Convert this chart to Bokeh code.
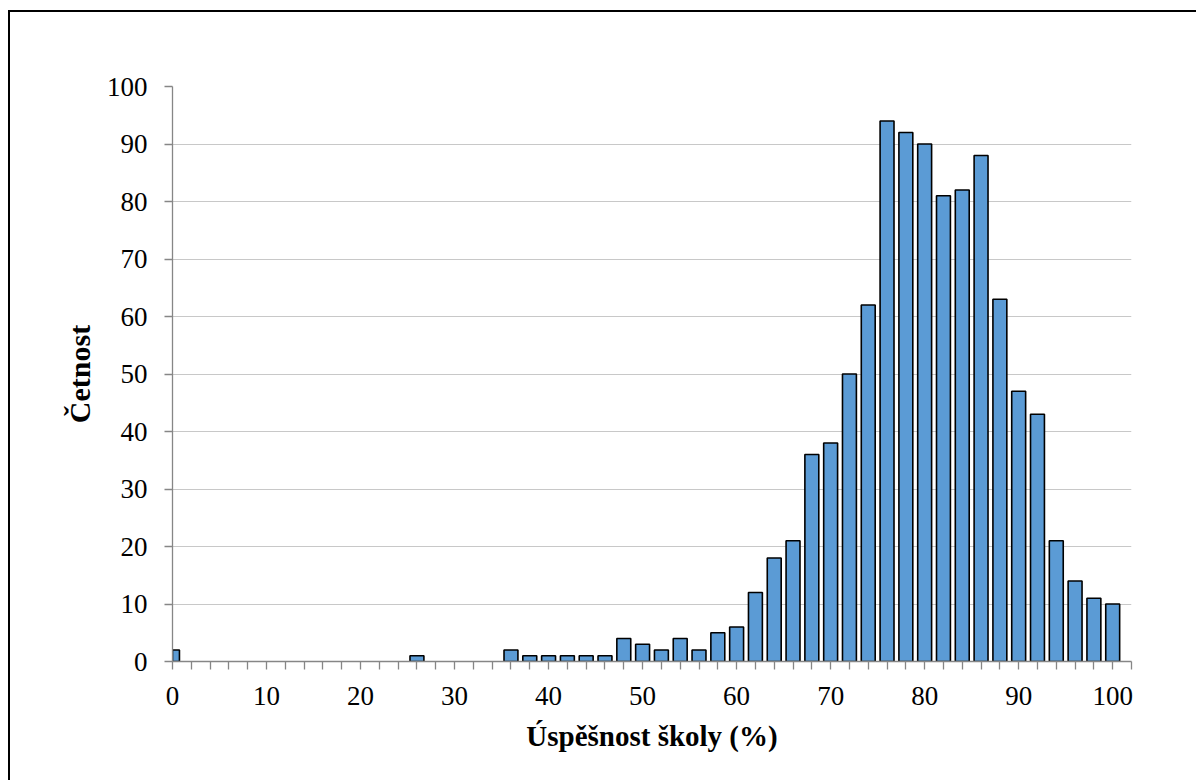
from bokeh.plotting import figure
from bokeh.models import FixedTicker, Range1d, ColumnDataSource
from bokeh.embed import file_html
from bokeh.resources import INLINE

# School success rate bins (%), step 2
bins = list(range(0, 101, 2))
counts = [
    2, 0, 0, 0, 0, 0, 0, 0, 0, 0,      # 0 - 18
    0, 0, 0, 1, 0, 0, 0, 0, 2, 1,      # 20 - 38
    1, 1, 1, 1, 4, 3, 2, 4, 2, 5,      # 40 - 58
    6, 12, 18, 21, 36, 38, 50, 62, 94, 92,  # 60 - 78
    90, 81, 82, 88, 63, 47, 43, 21, 14, 11,  # 80 - 98
    10,                                 # 100
]
y_ticks = list(range(0, 101, 10))
x_ticks = list(range(0, 103, 2))
x_title = "Úspěšnost školy (%)"
y_title = "Četnost"

FONT = "Liberation Serif"

# empty bins are not drawn (no outline on the baseline)
nz = [(b, c) for b, c in zip(bins, counts) if c > 0]
src = ColumnDataSource(dict(x=[b for b, _ in nz], top=[c for _, c in nz]))

p = figure(
    width=1188, height=770,
    x_range=Range1d(0, 102), y_range=Range1d(0, 100),
    output_backend="svg", toolbar_location=None,
    min_border_left=162, min_border_right=67,
    min_border_top=74, min_border_bottom=121,
)
p.styles = {
    "margin-left": "8px", "margin-top": "10px",
    "border-left": "2px solid #000", "border-top": "2px solid #000",
}

p.vbar(x="x", top="top", width=1.48, bottom=0, source=src,
       fill_color="#5B9BD5", line_color="#000000", line_width=1.6)

p.outline_line_color = None
p.background_fill_color = "white"
p.border_fill_color = "white"

# grid
p.xgrid.grid_line_color = None
p.ygrid.grid_line_color = "#C8C8C8"
p.ygrid.grid_line_width = 1.2

# x axis
xa = p.xaxis[0]
xa.ticker = FixedTicker(ticks=x_ticks)
xa.major_label_overrides = {t: (str(t) if t % 10 == 0 and t <= 100 else "") for t in x_ticks}
xa.axis_line_color = "#868686"
xa.axis_line_width = 1.3
xa.major_tick_line_color = "#868686"
xa.major_tick_line_width = 1.3
xa.major_tick_in = 0
xa.major_tick_out = 8
xa.minor_tick_line_color = None
xa.major_label_text_font = FONT
xa.major_label_text_font_size = "27px"
xa.major_label_text_color = "#000000"
xa.major_label_standoff = 17
xa.axis_label = x_title
xa.axis_label_text_font = FONT
xa.axis_label_text_font_style = "bold"
xa.axis_label_text_font_size = "29px"
xa.axis_label_text_color = "#000000"
xa.axis_label_standoff = 12

# y axis
ya = p.yaxis[0]
ya.ticker = FixedTicker(ticks=y_ticks)
ya.axis_line_color = "#868686"
ya.axis_line_width = 1.3
ya.major_tick_line_color = "#868686"
ya.major_tick_line_width = 1.3
ya.major_tick_in = 0
ya.major_tick_out = 8
ya.minor_tick_line_color = None
ya.major_label_text_font = FONT
ya.major_label_text_font_size = "27px"
ya.major_label_text_color = "#000000"
ya.major_label_standoff = 17
ya.axis_label = y_title
ya.axis_label_text_font = FONT
ya.axis_label_text_font_style = "bold"
ya.axis_label_text_font_size = "30px"
ya.axis_label_text_color = "#000000"
ya.axis_label_standoff = 8

open("out.html", "w").write(file_html(p, INLINE))
